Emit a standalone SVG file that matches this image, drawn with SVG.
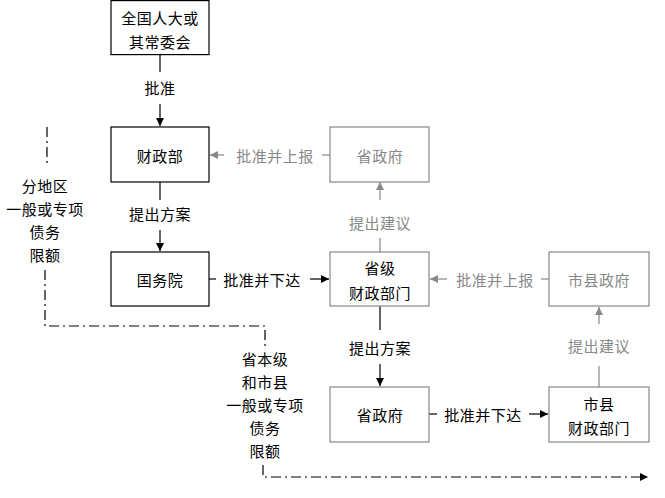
<svg xmlns="http://www.w3.org/2000/svg" width="665" height="498" viewBox="0 0 665 498">
<style>
text{font-family:"Noto Sans CJK SC","Noto Sans CJK JP",sans-serif;font-size:15px;text-anchor:middle;dominant-baseline:central;letter-spacing:0.5px}
.k{fill:#000}.g{fill:#888}
rect{fill:#fff;stroke-width:1.2}
.bk{stroke:#000}.bg{stroke:#888}
.lk{stroke:#000;stroke-width:1.2;fill:none}
.lg{stroke:#888;stroke-width:1.2;fill:none}
.dd{stroke:#000;stroke-width:1.2;fill:none;stroke-dasharray:10 4 2 4}
</style>
<defs>
<marker id="ak" viewBox="0 0 10 10" refX="10" refY="5" markerWidth="8" markerHeight="8" markerUnits="userSpaceOnUse" orient="auto"><path d="M0,0L10,5L0,10z" fill="#000"/></marker>
<marker id="ag" viewBox="0 0 10 10" refX="10" refY="5" markerWidth="8" markerHeight="8" markerUnits="userSpaceOnUse" orient="auto"><path d="M0,0L10,5L0,10z" fill="#888"/></marker>
</defs>
<g id="connectors">
<path class="lk" d="M160,55V72"/><text class="k" x="160" y="87">批准</text><path class="lk" d="M160,104V126" marker-end="url(#ak)"/>
<path class="lk" d="M160,182V200"/><text class="k" x="160" y="213">提出方案</text><path class="lk" d="M160,230V251" marker-end="url(#ak)"/>
<path class="lg" d="M330,155H322"/><text class="g" x="275" y="155">批准并上报</text><path class="lg" d="M224,155H210" marker-end="url(#ag)"/>
<path class="lg" d="M380,252V238"/><text class="g" x="380" y="222">提出建议</text><path class="lg" d="M380,200V182" marker-end="url(#ag)"/>
<path class="lk" d="M209,279H216"/><text class="k" x="262" y="279">批准并下达</text><path class="lk" d="M310,279H329" marker-end="url(#ak)"/>
<path class="lg" d="M549,279H541"/><text class="g" x="495" y="279">批准并上报</text><path class="lg" d="M447,279H430" marker-end="url(#ag)"/>
<path class="lk" d="M380,306V330"/><text class="k" x="380" y="347">提出方案</text><path class="lk" d="M380,364V386" marker-end="url(#ak)"/>
<path class="lk" d="M429,414H437"/><text class="k" x="483" y="414">批准并下达</text><path class="lk" d="M529,414H548" marker-end="url(#ak)"/>
<path class="lg" d="M599,387V366"/><text class="g" x="599" y="345">提出建议</text><path class="lg" d="M599,324V307" marker-end="url(#ag)"/>
<path class="dd" d="M47,127V166"/>
<path class="dd" d="M45,270V326H265V350"/>
<path class="dd" d="M263,465V477H648" marker-end="url(#ak)"/>
<text class="k" x="45" y="185">分地区</text>
<text class="k" x="45" y="208">一般或专项</text>
<text class="k" x="45" y="231">债务</text>
<text class="k" x="45" y="254">限额</text>
<text class="k" x="265" y="358">省本级</text>
<text class="k" x="265" y="381">和市县</text>
<text class="k" x="265" y="404">一般或专项</text>
<text class="k" x="265" y="427">债务</text>
<text class="k" x="265" y="450">限额</text>
</g>
<g id="npc"><rect class="bk" x="111" y="0.6" width="98" height="54"/><text class="k" x="160" y="17">全国人大或</text><text class="k" x="160" y="41">其常委会</text></g>
<g id="mof"><rect class="bk" x="111" y="127" width="98" height="55"/><text class="k" x="160" y="155">财政部</text></g>
<g id="state-council"><rect class="bk" x="111" y="252" width="98" height="54"/><text class="k" x="160" y="279">国务院</text></g>
<g id="prov-gov-top"><rect class="bg" x="330" y="127" width="99" height="55"/><text class="g" x="380" y="155">省政府</text></g>
<g id="prov-finance"><rect class="bg" x="330" y="252" width="99" height="54"/><text class="k" x="380" y="267">省级</text><text class="k" x="380" y="292">财政部门</text></g>
<g id="city-gov"><rect class="bg" x="549" y="252" width="100" height="54"/><text class="g" x="599" y="279">市县政府</text></g>
<g id="prov-gov-bottom"><rect class="bg" x="330" y="387" width="99" height="55"/><text class="k" x="380" y="414">省政府</text></g>
<g id="city-finance"><rect class="bg" x="549" y="387" width="100" height="55"/><text class="k" x="599" y="403">市县</text><text class="k" x="599" y="427">财政部门</text></g>
</svg>
